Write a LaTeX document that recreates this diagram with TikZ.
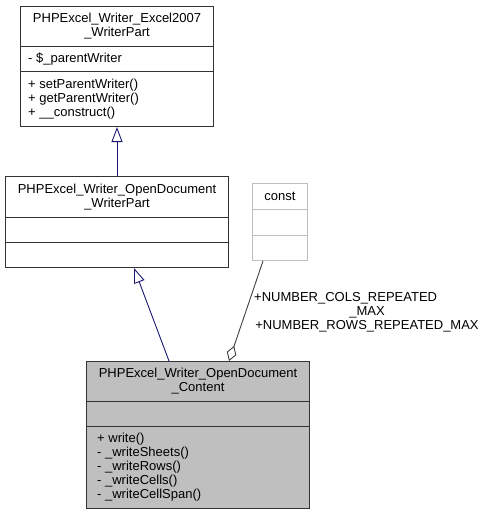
\documentclass[tikz,border=0pt]{standalone}
\usepackage{fontspec}
\setmainfont{Liberation Sans}
\usetikzlibrary{arrows.meta}
\definecolor{edgeblue}{HTML}{191970}
\definecolor{edgegray}{HTML}{404040}
\definecolor{boxgray}{HTML}{BFBFBF}
\definecolor{lightborder}{HTML}{BFBFBF}
\begin{document}
\begin{tikzpicture}[x=1pt,y=-1pt,
  cbox/.style={draw=black!80, line width=1pt, inner sep=0pt, anchor=north west},
  lbox/.style={draw=lightborder, line width=1pt, inner sep=0pt, anchor=north west},
  fbox/.style={cbox, fill=boxgray},
  txt/.style={inner sep=0pt, font=\fontsize{13}{14}\selectfont},
  inherit/.style={draw=edgeblue, line width=0.9pt, -{Triangle[open, length=15pt, width=11pt]}},
  compo/.style={draw=edgegray, line width=0.9pt, {Diamond[open, length=16pt, width=10pt]}-}
]
\useasboundingbox (0,0) rectangle (489,516);

% Box 1: PHPExcel_Writer_Excel2007_WriterPart
\node[cbox, minimum width=193pt, minimum height=40pt] (b1t) at (20,6) {};
\node[cbox, minimum width=193pt, minimum height=25pt] (b1a) at (20,46) {};
\node[cbox, minimum width=193pt, minimum height=55pt] (b1m) at (20,71) {};
\node[txt, align=center] (b1tt) at (b1t.center) {PHPExcel\_Writer\_Excel2007\\\_WriterPart};
\node[txt, anchor=west] (b1at) at ([xshift=8pt]b1a.west) {- \$\_parentWriter};
\node[txt, anchor=west, align=left] (b1mt) at ([xshift=8pt]b1m.west) {+ setParentWriter()\\+ getParentWriter()\\+ \_\_construct()};

% Box 2: PHPExcel_Writer_OpenDocument_WriterPart
\node[cbox, minimum width=223pt, minimum height=41pt] (b2t) at (5,176) {};
\node[cbox, minimum width=223pt, minimum height=25pt] (b2a) at (5,217) {};
\node[cbox, minimum width=223pt, minimum height=25pt] (b2m) at (5,242) {};
\node[txt, align=center] (b2tt) at (b2t.center) {PHPExcel\_Writer\_OpenDocument\\\_WriterPart};

% const box
\node[lbox, minimum width=55pt, minimum height=26pt] (c1) at (252,183) {};
\node[lbox, minimum width=55pt, minimum height=26pt] (c2) at (252,209) {};
\node[lbox, minimum width=55pt, minimum height=25pt] (c3) at (252,235) {};
\node[txt] (ct) at (c1.center) {const};

% Box 3: PHPExcel_Writer_OpenDocument_Content
\node[fbox, minimum width=223pt, minimum height=40pt] (b3t) at (86,361) {};
\node[fbox, minimum width=223pt, minimum height=25pt] (b3a) at (86,401) {};
\node[fbox, minimum width=223pt, minimum height=82pt] (b3m) at (86,426) {};
\node[txt, align=center] (b3tt) at (b3t.center) {PHPExcel\_Writer\_OpenDocument\\\_Content};
\node[txt, anchor=west, align=left] (b3mt) at ([xshift=11pt]b3m.west) {+ write()\\- \_writeSheets()\\- \_writeRows()\\- \_writeCells()\\- \_writeCellSpan()};

% edges
\draw[inherit] (b2t.north) -- (b1m.south);
\draw[inherit] ([xshift=83pt]b3t.north west) -- ([xshift=129pt]b2m.south west);
\draw[compo] ([xshift=143pt]b3t.north west) -- ([xshift=11pt]c3.south west);

% edge label
\node[txt, anchor=west] (l1) at (254,298) {+NUMBER\_COLS\_REPEATED};
\node[txt] (l2) at (367,312) {\_MAX};
\node[txt] (l3) at (367,326) {+NUMBER\_ROWS\_REPEATED\_MAX};
\end{tikzpicture}
\end{document}
